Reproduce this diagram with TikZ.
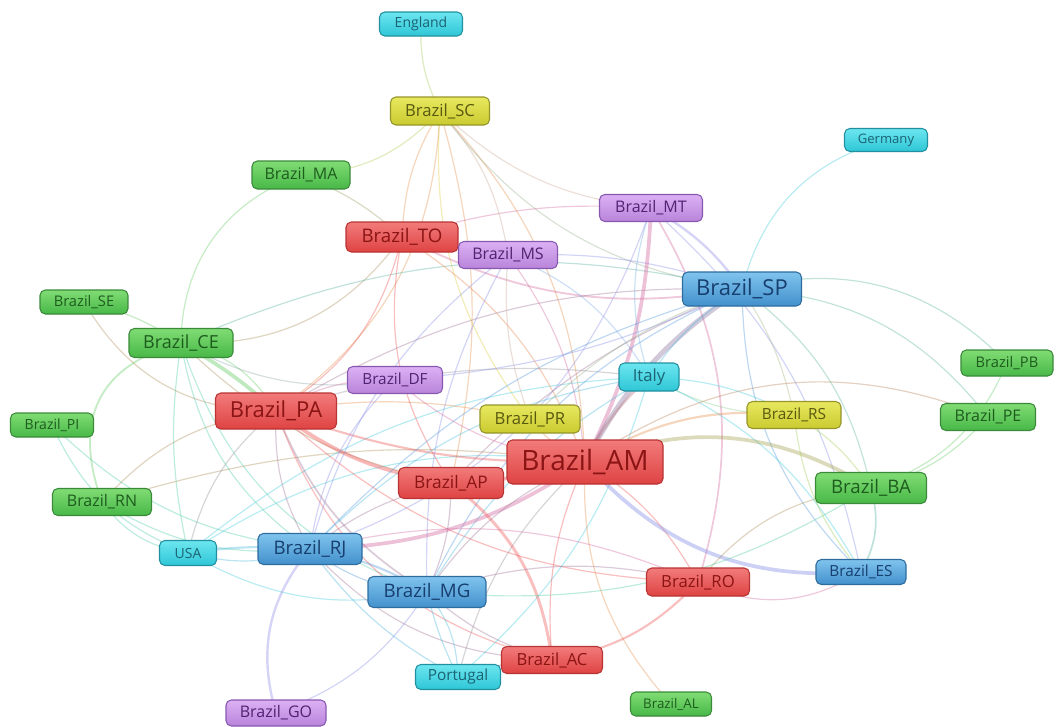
\documentclass[tikz,border=0pt]{standalone}
\usepackage{fontspec}
\setmainfont{Open Sans}
\pgfdeclarelayer{bg}
\pgfsetlayers{bg,main}
\definecolor{cR}{HTML}{EE5555}
\definecolor{cG}{HTML}{66CC66}
\definecolor{cB}{HTML}{5599DD}
\definecolor{cC}{HTML}{44CCDD}
\definecolor{cY}{HTML}{DDCC44}
\definecolor{cP}{HTML}{BB88EE}
\definecolor{tR}{HTML}{F27B7B}\definecolor{fR}{HTML}{DF4343}\definecolor{bR}{HTML}{B83333}\definecolor{xR}{HTML}{8B1414}
\definecolor{tG}{HTML}{80DC74}\definecolor{fG}{HTML}{48B848}\definecolor{bG}{HTML}{3A8A3A}\definecolor{xG}{HTML}{1E5C1E}
\definecolor{tB}{HTML}{80C4EE}\definecolor{fB}{HTML}{4290CC}\definecolor{bB}{HTML}{2E6C9E}\definecolor{xB}{HTML}{173F6F}
\definecolor{tC}{HTML}{6CE6F0}\definecolor{fC}{HTML}{2EC6D6}\definecolor{bC}{HTML}{2290A0}\definecolor{xC}{HTML}{1B6373}
\definecolor{tY}{HTML}{E8E860}\definecolor{fY}{HTML}{CACA30}\definecolor{bY}{HTML}{95952A}\definecolor{xY}{HTML}{58580F}
\definecolor{tP}{HTML}{DCB0F4}\definecolor{fP}{HTML}{B884DA}\definecolor{bP}{HTML}{8858B0}\definecolor{xP}{HTML}{522272}
\tikzset{
  nd/.style={rounded corners=4pt, draw, line width=0.8pt, inner sep=0pt},
  nR/.style={nd, draw=bR, top color=tR, bottom color=fR, text=xR},
  nG/.style={nd, draw=bG, top color=tG, bottom color=fG, text=xG},
  nB/.style={nd, draw=bB, top color=tB, bottom color=fB, text=xB},
  nC/.style={nd, draw=bC, top color=tC, bottom color=fC, text=xC},
  nY/.style={nd, draw=bY, top color=tY, bottom color=fY, text=xY},
  nP/.style={nd, draw=bP, top color=tP, bottom color=fP, text=xP},
  sz/.style n args={3}{minimum width=#1*0.75pt, minimum height=#2*0.75pt, font=\fontsize{#3}{#3}\selectfont},
  ed/.style={draw=#1, line width=0.9pt, draw opacity=0.38},
  tk/.style={line width=2.8pt, draw opacity=0.42}
}
\begin{document}
\begin{tikzpicture}[x=0.75pt,y=0.75pt]
\useasboundingbox (0,0) rectangle (1058,-726);
\node[nC,sz={83}{24}{10.5}] (eng) at (421,-24) {England};
\node[nY,sz={99}{28}{12.5}] (sc) at (440,-111) {Brazil\_SC};
\node[nC,sz={83}{23}{9.8}] (ger) at (886,-140) {Germany};
\node[nG,sz={98}{28}{12}] (ma) at (301,-175) {Brazil\_MA};
\node[nP,sz={103}{27}{12}] (mt) at (651,-208) {Brazil\_MT};
\node[nR,sz={112}{30}{14}] (to) at (402,-237) {Brazil\_TO};
\node[nP,sz={99}{27}{12}] (ms) at (508,-255) {Brazil\_MS};
\node[nB,sz={119}{34}{16.5}] (sp) at (742,-289) {Brazil\_SP};
\node[nG,sz={88}{24}{11}] (se) at (84,-302) {Brazil\_SE};
\node[nG,sz={104}{29}{13.5}] (ce) at (181,-343) {Brazil\_CE};
\node[nP,sz={95}{27}{11.5}] (df) at (395,-380) {Brazil\_DF};
\node[nC,sz={60}{28}{12.5}] (ita) at (649,-377) {Italy};
\node[nG,sz={92}{26}{11}] (pb) at (1007,-363) {Brazil\_PB};
\node[nR,sz={121}{36}{16.5}] (pa) at (276,-411) {Brazil\_PA};
\node[nY,sz={100}{28}{12.5}] (pr) at (530,-419) {Brazil\_PR};
\node[nY,sz={94}{27}{11.5}] (rs) at (794,-415) {Brazil\_RS};
\node[nG,sz={95}{27}{12}] (pe) at (988,-417) {Brazil\_PE};
\node[nG,sz={83}{24}{10.5}] (pi) at (52,-425) {Brazil\_PI};
\node[nR,sz={156}{44}{21}] (am) at (585,-462) {Brazil\_AM};
\node[nR,sz={105}{31}{13}] (ap) at (451,-483) {Brazil\_AP};
\node[nG,sz={111}{31}{14}] (ba) at (871,-488) {Brazil\_BA};
\node[nG,sz={99}{27}{12}] (rn) at (102,-502) {Brazil\_RN};
\node[nC,sz={57}{25}{10.5}] (usa) at (188,-553) {USA};
\node[nB,sz={104}{31}{14}] (rj) at (310,-549) {Brazil\_RJ};
\node[nB,sz={90}{25}{11.5}] (es) at (861,-572) {Brazil\_ES};
\node[nB,sz={118}{31}{14}] (mg) at (427,-592) {Brazil\_MG};
\node[nR,sz={103}{28}{12.5}] (ro) at (698,-582) {Brazil\_RO};
\node[nR,sz={101}{27}{12.5}] (ac) at (552,-660) {Brazil\_AC};
\node[nC,sz={85}{25}{11.5}] (por) at (458,-677) {Portugal};
\node[nG,sz={81}{24}{10}] (al) at (671,-704) {Brazil\_AL};
\node[nP,sz={100}{26}{12}] (go) at (276,-713) {Brazil\_GO};
\begin{pgfonlayer}{bg}
% SC
\draw[ed=cG!50!cY] (eng.center) to[bend right=14] (sc.center);
\draw[ed=cY!60!cG] (sc.center) to[bend left=22] (ma.center);
\draw[ed=cY!50!cR] (sc.center) to[bend left=26] (pa.center);
\draw[ed=cY!50!cR] (sc.center) to[bend right=14] (to.center);
\draw[ed=cY!50!cR] (sc.center) to[bend left=14] (ap.center);
\draw[ed=cY!50!cR] (sc.center) to[bend left=20] (am.center);
\draw[ed=cY] (sc.center) to[bend right=20] (pr.center);
\draw[ed=cY!50!cP] (sc.center) to[bend left=16] (ms.center);
\draw[ed=cY!50!cP] (sc.center) to[bend right=18] (mt.center);
\draw[ed=cY!50!cB] (sc.center) to[bend right=22] (sp.center);
% MA
\draw[ed=cG] (ma.center) to[bend right=35] (ce.center);
\draw[ed=cG!60!cR] (ma.center) to[bend left=10] (to.center);
% CE
\draw[ed=cG!50!cR] (ce.center) to[bend right=28] (to.center);
\draw[ed=cG,tk] (ce.center) to[bend left=6] (pa.center);
\draw[ed=cG] (ce.center) to[bend left=22] (pa.center);
\draw[ed=cG] (se.center) to[bend left=10] (ce.center);
\draw[ed=cG,line width=1.4pt] (ce.center) to[out=195,in=110,looseness=1.25] (rn.center);
\draw[ed=cG!50!cC] (ce.center) to[bend right=10] (usa.center);
\draw[ed=cG!40!cC] (ce.center) to[bend right=22] (rj.center);
\draw[ed=cG!40!cC] (ce.center) to[bend right=26] (mg.center);
\draw[ed=cG!50!cP] (ce.center) to[bend right=18] (df.center);
\draw[ed=cG!50!cR] (ce.center) to[bend right=16] (ap.center);
\draw[ed=cG!50!cB] (ce.center) to[bend left=18] (sp.center);
% SE, PI, RN
\draw[ed=cG!50!cR] (se.center) to[bend right=30] (pa.center);
\draw[ed=cG!40!cC] (pi.center) to[bend right=22] (usa.center);
\draw[ed=cG!40!cC] (pi.center) to[bend right=18] (rj.center);
\draw[ed=cG!50!cR] (rn.center) to[bend left=20] (pa.center);
\draw[ed=cG!50!cR] (rn.center) to[bend left=12] (am.center);
\draw[ed=cG!40!cC] (rn.center) to[bend right=22] (usa.center);
\draw[ed=cG!40!cC] (rn.center) to[bend right=18] (rj.center);
% USA
\draw[ed=cC!60!cB,line width=1.6pt] (usa.center) to[bend left=6] (rj.center);
\draw[ed=cC!60!cB] (usa.center) to[bend right=16] (rj.center);
\draw[ed=cC] (usa.center) to[bend left=20] (am.center);
\draw[ed=cC] (usa.center) to[bend left=18] (ita.center);
\draw[ed=cC] (usa.center) to[bend right=20] (mg.center);
% PA
\draw[ed=cR,tk] (pa.center) to[bend right=14] (ap.center);
\draw[ed=cR,line width=1.6pt] (pa.center) to[bend right=10] (am.center);
\draw[ed=cR!50!cB] (pa.center) to[bend right=16] (rj.center);
\draw[ed=cR!50!cB,line width=1.3pt] (pa.center) to[bend right=18] (mg.center);
\draw[ed=cR] (pa.center) to[bend right=28] (ac.center);
\draw[ed=cR] (pa.center) to[bend right=20] (ro.center);
\draw[ed=cR!50!cY] (pa.center) to[bend left=10] (pr.center);
\draw[ed=cR!50!cP] (pa.center) to[bend left=16] (df.center);
\draw[ed=cR!50!cC] (pa.center) to[bend left=12] (ita.center);
\draw[ed=cR!50!cB] (pa.center) to[bend left=16] (sp.center);
\draw[ed=cR!50!cC] (pa.center) to[bend right=18] (usa.center);
\draw[ed=cR] (to.center) to[bend left=22] (pa.center);
% TO
\draw[ed=cR] (to.center) to[bend right=22] (ap.center);
\draw[ed=cR!60!cY] (to.center) to[bend left=18] (am.center);
\draw[ed=cR!50!cP,line width=1.4pt] (to.center) to[bend right=18] (sp.center);
\draw[ed=cR!50!cP] (to.center) to[bend left=10] (mt.center);
% MS
\draw[ed=cP!50!cB] (ms.center) to[bend left=10] (sp.center);
\draw[ed=cP!50!cB] (ms.center) to[bend right=18] (rj.center);
\draw[ed=cP!50!cC] (ms.center) to[bend left=18] (ita.center);
\draw[ed=cP!50!cY] (ms.center) to[bend right=12] (pr.center);
\draw[ed=cP!50!cR] (ms.center) to[bend left=15] (am.center);
\draw[ed=cP!50!cB] (ms.center) to[bend right=15] (mg.center);
% MT
\draw[ed=cP!50!cR,tk] (mt.center) to[bend left=12] (am.center);
\draw[ed=cP!60!cB,line width=1.8pt] (mt.center) to[bend left=12] (sp.center);
\draw[ed=cP!50!cR,line width=1.3pt] (mt.center) to[bend left=24] (ro.center);
\draw[ed=cP!60!cB] (mt.center) to[bend left=26] (rj.center);
\draw[ed=cP!40!cC] (mt.center) to[bend right=18] (ita.center);
\draw[ed=cP!50!cB] (mt.center) to[bend left=18] (es.center);
% SP
\draw[ed=cB!60!cR,tk,line width=3.8pt] (sp.center) to[bend right=14] (am.center);
\draw[ed=cB!50!cC] (sp.center) to[bend right=12] (ita.center);
\draw[ed=cB] (sp.center) to[bend right=15] (rj.center);
\draw[ed=cB] (sp.center) to[bend right=20] (mg.center);
\draw[ed=cB!50!cR] (sp.center) to[bend right=12] (ap.center);
\draw[ed=cB!50!cP] (sp.center) to[bend left=10] (df.center);
\draw[ed=cB!40!cG] (sp.center) to[bend left=30] (pb.center);
\draw[ed=cB!40!cG] (sp.center) to[bend left=24] (pe.center);
\draw[ed=cB!40!cG] (sp.center) to[bend left=20] (ba.center);
\draw[ed=cB] (sp.center) to[bend right=22] (es.center);
\draw[ed=cB!40!cY] (sp.center) to[bend left=10] (rs.center);
\draw[ed=cC] (ger.center) to[bend right=30] (sp.center);
\draw[ed=cB!50!cY] (sp.center) to[bend right=12] (pr.center);
% Italy
\draw[ed=cR!70!cC,line width=2pt] (ita.center) to[bend right=10] (am.center);
\draw[ed=cC] (ita.center) to[bend left=12] (rs.center);
\draw[ed=cC!50!cY] (ita.center) to[bend right=14] (rs.center);
\draw[ed=cC] (ita.center) to[bend left=18] (es.center);
\draw[ed=cC!60!cB] (ita.center) to[bend right=18] (rj.center);
\draw[ed=cC!60!cB] (ita.center) to[bend right=14] (mg.center);
\draw[ed=cC] (ita.center) to[bend left=16] (por.center);
% AM
\draw[ed=cR!60!cG] (am.center) to[bend left=28] (pe.center);
\draw[ed=cR,tk] (am.center) to[bend left=6] (ap.center);
\draw[ed=cR!50!cP,tk] (rj.center) to[bend right=16] (am.center);
\draw[ed=cR!50!cB] (am.center) to[bend right=15] (mg.center);
\draw[ed=cR] (am.center) to[bend right=14] (ac.center);
\draw[ed=cR] (am.center) to[bend left=14] (ro.center);
\draw[ed=cR!40!cG!80!cY,tk] (am.center) to[bend left=26] (ba.center);
\draw[ed=cB!50!cP,tk] (am.center) to[bend right=26] (es.center);
\draw[ed=cR!50!cC] (am.center) to[bend right=16] (por.center);
\draw[ed=cR!50!cY] (am.center) to[bend right=22] (al.center);
\draw[ed=cR!50!cY] (am.center) to[bend left=12] (pr.center);
\draw[ed=cR!50!cY,line width=1.6pt] (am.center) to[bend left=18] (rs.center);
\draw[ed=cR!50!cP] (df.center) to[bend right=16] (am.center);
% AP
\draw[ed=cR,line width=2.2pt] (ap.center) to[bend left=22] (ac.center);
\draw[ed=cR!50!cB] (ap.center) to[bend left=12] (mg.center);
\draw[ed=cR!50!cB] (ap.center) to[bend right=12] (rj.center);
% BA
\draw[ed=cG] (ba.center) to[bend right=16] (pe.center);
\draw[ed=cG] (ba.center) to[bend right=24] (pb.center);
\draw[ed=cG!50!cB,line width=1.3pt] (ba.center) to[bend left=22] (es.center);
\draw[ed=cG!50!cR] (ro.center) to[bend left=22] (ba.center);
\draw[ed=cG!50!cC] (mg.center) to[bend right=18] (ba.center);
\draw[ed=cY!50!cG] (rs.center) to[bend left=12] (ba.center);
\draw[ed=cY!50!cG] (rs.center) to[bend right=16] (es.center);
% RJ
\draw[ed=cB,line width=1.6pt] (rj.center) to[bend left=10] (mg.center);
\draw[ed=cB] (rj.center) to[bend right=16] (mg.center);
\draw[ed=cP!60!cB,line width=1.8pt] (rj.center) to[bend right=28] (go.center);
\draw[ed=cP!50!cB] (mg.center) to[bend left=18] (go.center);
\draw[ed=cR!50!cB] (rj.center) to[bend right=22] (ac.center);
\draw[ed=cB!50!cC] (rj.center) to[bend right=12] (por.center);
\draw[ed=cR!50!cP] (rj.center) to[bend left=18] (ro.center);
\draw[ed=cP!60!cB] (df.center) to[bend right=18] (rj.center);
% MG
\draw[ed=cC!60!cB] (mg.center) to[bend right=6] (por.center);
\draw[ed=cC!60!cB] (mg.center) to[bend left=18] (por.center);
\draw[ed=cR!50!cB] (mg.center) to[bend right=12] (ac.center);
\draw[ed=cR!50!cB] (mg.center) to[bend left=15] (ro.center);
% Portugal, RO, AC
\draw[ed=cC!50!cR,line width=1.4pt] (por.center) to[bend left=8] (ac.center);
\draw[ed=cR!50!cP] (ro.center) to[bend right=28] (es.center);
\draw[ed=cR,line width=1.6pt] (ac.center) to[bend right=18] (ro.center);
\end{pgfonlayer}
\end{tikzpicture}
\end{document}
